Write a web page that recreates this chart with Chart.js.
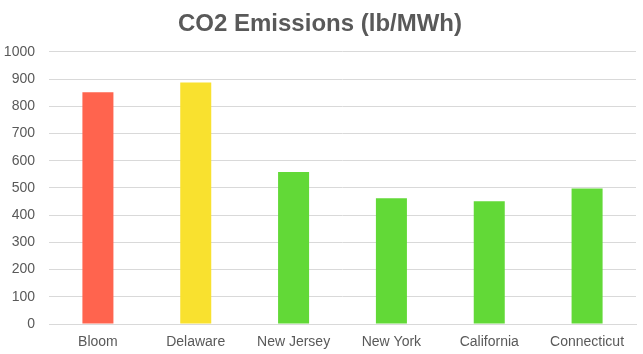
<!DOCTYPE html>
<html>
<head>
<meta charset="utf-8">
<script src="https://cdn.jsdelivr.net/npm/chart.js@4"></script>
<style>
  body { margin: 0; background: #fff; }
  #wrap { width: 643px; height: 354px; }
</style>
</head>
<body>
<div id="wrap"><canvas id="co2-canvas"></canvas></div>
<script>
var places = ["Bloom", "Delaware", "New Jersey", "New York", "California", "Connecticut"];
var emissions = [851, 887, 558, 462, 451, 498];
var barColors = ["#FF644E", "#F9E12F", "#62D937", "#62D937", "#62D937", "#62D937"];
var yTicks = [0, 100, 200, 300, 400, 500, 600, 700, 800, 900, 1000];

Chart.defaults.font.family = "'Liberation Sans', Arial, sans-serif";
Chart.defaults.color = "#595959";

new Chart(document.getElementById("co2-canvas"), {
  type: "bar",
  data: {
    labels: places,
    datasets: [
      {
        label: "CO2 Emissions (lb/MWh)",
        data: emissions,
        backgroundColor: barColors,
        barPercentage: 0.317,
        categoryPercentage: 1,
      },
    ],
  },
  options: {
    responsive: true,
    maintainAspectRatio: false,
    animation: false,
    layout: { padding: { left: 4, right: 7, top: 10, bottom: 0 } },
    plugins: {
      legend: { display: false },
      tooltip: { enabled: false },
      title: {
        display: true,
        text: "CO2 Emissions (lb/MWh)",
        color: "#595959",
        font: { size: 24, weight: "bold" },
        padding: { top: 0, bottom: 13 },
      },
    },
    scales: {
      x: {
        grid: { display: false },
        border: { color: "#d9d9d9" },
        ticks: { font: { size: 14 }, color: "#595959", padding: 2 },
        afterFit: function (axis) { axis.height = 30; },
      },
      y: {
        min: 0,
        max: 1000,
        afterBuildTicks: function (axis) {
          axis.ticks = yTicks.map(function (v) { return { value: v }; });
        },
        afterFit: function (axis) { axis.width = 45; },
        grid: { color: "#d9d9d9", drawTicks: false },
        border: { display: false },
        ticks: {
          font: { size: 14 },
          color: "#595959",
          padding: 14,
          callback: function (v) { return String(v); },
        },
      },
    },
  },
});
</script>
</body>
</html>
